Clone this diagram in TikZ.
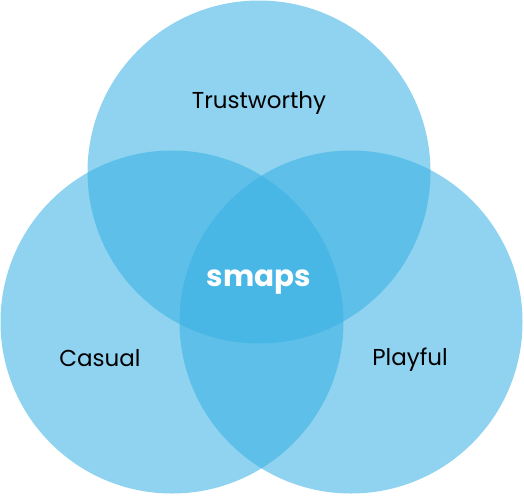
\documentclass[tikz,border=0pt]{standalone}
\usepackage{fontspec}
\setmainfont{Poppins}
\usepackage{xcolor}
\usetikzlibrary{positioning}
\definecolor{vennblue}{RGB}{56,176,228}
\tikzset{
  SetStyle/.style={circle, fill=vennblue, fill opacity=0.56, draw=none, minimum size=343pt, inner sep=0pt},
  LabelStyle/.style={anchor=base, text=black, inner sep=0pt, font=\fontsize{23}{27}\selectfont},
  CoreStyle/.style={anchor=base, text=white, inner sep=0pt, font=\bfseries\fontsize{29.5}{34}\selectfont}
}
\begin{document}
\begin{tikzpicture}[x=1pt, y=-1pt]
\useasboundingbox (0,0) rectangle (524,495);
\node[SetStyle] (trust) at (259,172) {};
\node[SetStyle] (casual) at (172,322) {};
\node[SetStyle] (play) at (351,322) {};
\node[LabelStyle] (ltrust) at (259,108) {Trustworthy};
\node[LabelStyle] (lcasual) at (100,366) {Casual};
\node[LabelStyle] (lplay) at (410,365) {Playful};
\node[CoreStyle] (core) at (259,286) {smaps};
\end{tikzpicture}
\end{document}
